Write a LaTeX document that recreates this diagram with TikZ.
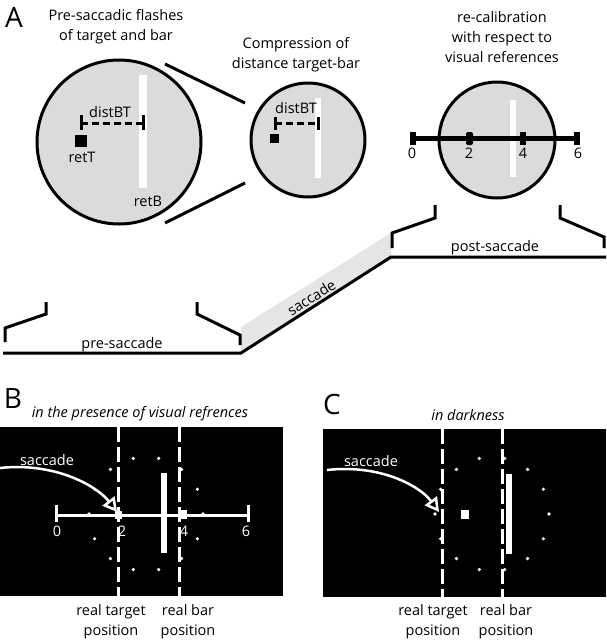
\documentclass[tikz,border=0pt]{standalone}
\usepackage{fontspec}
\setmainfont{Open Sans}
\usetikzlibrary{arrows.meta}

\begin{document}
\begin{tikzpicture}[x=1pt,y=1pt]
\tikzstyle{every node}+=[inner sep=0pt]
\tikzset{
  lbl/.style={font=\fontsize{14.5}{20}\selectfont, align=center},
  ilbl/.style={font=\fontsize{14.5}{20}\selectfont\itshape},
  letter/.style={font=\fontsize{28}{28}\selectfont},
  thickline/.style={line width=3pt},
  retina/.style={line width=3pt, fill=black!14},
  wdash/.style={white, line width=3pt, dash pattern=on 15pt off 5pt},
  sacc/.style={white, line width=2.5pt, -{Triangle[open, length=14pt, width=15pt]}},
  scalenum/.style={font=\fontsize{14.5}{15}\selectfont}
}
\useasboundingbox (0,0) rectangle (606,-640);

% panel A
\draw (14,-17) node [letter] (labA) {A};
\draw (116,-27) node [lbl] (tpre) {Pre-saccadic flashes\\of target and bar};
\draw (296,-55) node [lbl] (tcomp) {Compression of\\distance target-bar};
\draw (502,-37) node [lbl] (trecal) {re-calibration\\with respect to\\visual references};

% big retina
\draw [retina] (119,-142) circle (82);
\fill [white] (139,-75) rectangle (147,-188);
\coordinate (dL) at (81,-123);
\coordinate (dR) at (143,-123);
\draw [thickline, dash pattern=on 7pt off 4pt] (dL) -- (dR);
\draw [thickline] (81,-115) -- (81,-130);
\draw [thickline] (143,-115) -- (143,-130);
\fill [black] (75,-135) rectangle (87,-147);
\draw (110,-112) node [lbl] (dist1) {distBT};
\draw (82,-157) node [lbl] (retT) {retT};
\draw (148,-201) node [lbl] (retB) {retB};

% zoom lines
\coordinate (zt1) at (165,-64);
\coordinate (zt2) at (245,-103);
\coordinate (zb1) at (165,-223);
\coordinate (zb2) at (245,-183);
\draw [thickline] (zt1) -- (zt2);
\draw [thickline] (zb1) -- (zb2);

% compressed retina
\draw [retina] (308,-140) circle (57);
\fill [white] (315,-98) rectangle (321,-178);
\coordinate (cL) at (275,-123);
\coordinate (cR) at (318,-123);
\draw [thickline, dash pattern=on 7pt off 4pt] (cL) -- (cR);
\draw [thickline] (275,-117) -- (275,-130);
\draw [thickline] (318,-117) -- (318,-130);
\fill [black] (270,-134) rectangle (279,-143);
\draw (296,-108) node [lbl] (dist2) {distBT};

% re-calibrated retina
\draw [retina] (497,-140) circle (58);
\fill [white] (510,-100) rectangle (516,-177);
\coordinate (s0) at (413,-138);
\coordinate (s6) at (577,-138);
\draw [line width=5pt] (s0) -- (s6);
\fill [black] (410,-132) rectangle (416,-145);
\fill [black] (574,-132) rectangle (580,-145);
\fill [black, rounded corners=2pt] (466,-132) rectangle (473,-145);
\fill [black] (520,-132) rectangle (526,-145);
\draw (412,-153) node [scalenum] (n0) {0};
\draw (469,-153) node [scalenum] (n2) {2};
\draw (523,-153) node [scalenum] (n4) {4};
\draw (578,-153) node [scalenum] (n6) {6};

% time line
\coordinate (preA) at (3,-353);
\coordinate (preB) at (241,-353);
\coordinate (postA) at (391,-257);
\coordinate (postB) at (606,-257);
\fill [black!10] (preB) -- (postA) -- (391,-233) -- (241,-327) -- cycle;
\draw [thickline] (preA) -- (preB) -- (postA) -- (postB);
\draw [thickline] (5,-342) -- (5,-328) -- (46,-314) -- (46,-302);
\draw [thickline] (197,-302) -- (197,-314) -- (240,-335) -- (240,-345);
\draw [thickline] (435,-205) -- (435,-218) -- (392,-233) -- (392,-248);
\draw [thickline] (560,-205) -- (560,-218) -- (604,-237) -- (604,-248);
\draw (122,-345) node [lbl] (tpres) {pre-saccade};
\draw (495,-248) node [lbl] (tposts) {post-saccade};
\path (preB) -- (postA) node [midway, sloped, above=3pt, lbl] (tsacc) {saccade};

% panel B
\draw (13,-399) node [letter] (labB) {B};
\draw (140,-414) node [ilbl] (tB) {in the presence of visual refrences};
\fill [black] (0,-427) rectangle (283,-596);
\foreach \k in {0,...,13}
  \fill [white] (146,-514) ++(\k*360/14:57) circle (1.8);
\draw [wdash] (118,-427) -- (118,-597);
\draw [wdash] (179,-427) -- (179,-597);
\fill [white] (161,-473) rectangle (167,-553);
\coordinate (b0) at (56,-515);
\coordinate (b6) at (248,-515);
\draw [white, line width=3pt] (b0) -- (b6);
\draw [white, line width=3pt] (56,-505) -- (56,-522);
\draw [white, line width=3pt] (248,-505) -- (248,-522);
\fill [white] (115,-511) rectangle (122,-519);
\fill [white] (180,-510) rectangle (187,-519);
\draw (57,-531) node [scalenum, white] (bn0) {0};
\draw (122,-531) node [scalenum, white] (bn2) {2};
\draw (184,-531) node [scalenum, white] (bn4) {4};
\draw (246,-531) node [scalenum, white] (bn6) {6};
\draw (47,-460) node [lbl, white] (bsacc) {saccade};
\coordinate (bs1) at (0,-468);
\coordinate (bs2) at (117,-512);
\draw [sacc] (bs1) .. controls (55,-462) and (97,-486) .. (bs2);
\draw (111,-622) node [lbl] (breal1) {real target\\position};
\draw (188,-622) node [lbl] (breal2) {real bar\\position};

% panel C
\draw (332,-404) node [letter] (labC) {C};
\draw (468,-415) node [ilbl] (tC) {in darkness};
\fill [black] (323,-429) rectangle (606,-597);
\foreach \k in {0,...,13}
  \fill [white] (492,-514) ++(\k*360/14:57) circle (1.8);
\draw [wdash] (442,-429) -- (442,-597);
\draw [wdash] (502,-429) -- (502,-597);
\fill [white] (506,-474) rectangle (512,-554);
\fill [white] (461,-510) rectangle (469,-519);
\draw (371,-461) node [lbl, white] (csacc) {saccade};
\coordinate (cs1) at (327,-470);
\coordinate (cs2) at (439,-512);
\draw [sacc] (cs1) .. controls (380,-464) and (420,-486) .. (cs2);
\draw (433,-622) node [lbl] (creal1) {real target\\position};
\draw (506,-622) node [lbl] (creal2) {real bar\\position};
\end{tikzpicture}
\end{document}
